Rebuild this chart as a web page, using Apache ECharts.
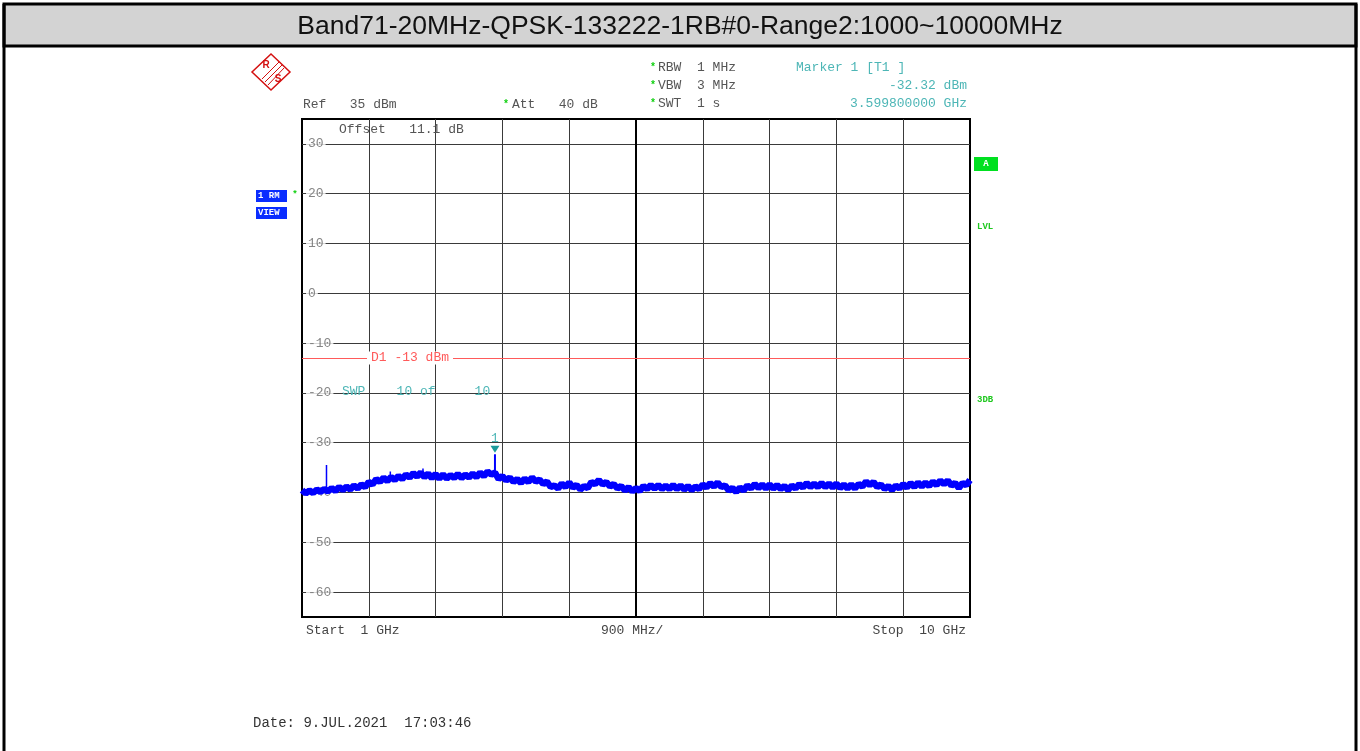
<!DOCTYPE html>
<html><head><meta charset="utf-8">
<script src="https://cdn.jsdelivr.net/npm/echarts@6/dist/echarts.min.js"></script>
<style>html,body{margin:0;padding:0;background:#fff}#c{width:1360px;height:751px}</style>
</head><body><div id="c"></div>
<script>
const chartTitle = 'Band71-20MHz-QPSK-133222-1RB#0-Range2:1000~10000MHz';
const startGHz = 1, stopGHz = 10, stepGHz = 0.05;
const refLevel = 35, bottomLevel = -65;
const yTicks = [30, 20, 10, 0, -10, -20, -30, -40, -50, -60];
const xDivs = [1.9, 2.8, 3.7, 4.6, 5.5, 6.4, 7.3, 8.2, 9.1];
const centerDiv = 5.5;
const traceDbm = [
  -39.5,-40.2,-39.6,-40.1,-39.4,-39.9,-39.3,-39.8,-39.1,-39.7,
  -38.9,-39.5,-38.8,-39.4,-38.6,-39.2,-38.4,-38.9,-37.9,-38.4,
  -37.3,-37.9,-37.0,-37.7,-36.9,-37.5,-36.7,-37.3,-36.4,-37.0,
  -36.1,-36.8,-36.0,-36.9,-36.2,-37.1,-36.3,-37.2,-36.4,-37.2,
  -36.5,-37.1,-36.3,-37.1,-36.4,-37.0,-36.2,-36.9,-36.0,-36.7,
  -35.8,-36.4,-36.0,-37.3,-36.7,-37.6,-37.0,-37.9,-37.3,-38.1,
  -37.2,-37.9,-37.0,-37.8,-37.4,-38.3,-37.8,-38.9,-38.6,-39.2,
  -38.2,-38.9,-38.0,-39.0,-38.5,-39.4,-38.7,-39.1,-37.9,-38.3,
  -37.5,-38.4,-37.9,-38.8,-38.3,-39.2,-38.7,-39.6,-38.9,-39.8,
  -39.1,-39.7,-38.7,-39.3,-38.5,-39.2,-38.5,-39.3,-38.6,-39.3,
  -38.5,-39.3,-38.6,-39.4,-38.7,-39.5,-38.8,-39.3,-38.4,-39.0,
  -38.1,-38.8,-38.0,-38.9,-38.6,-39.6,-39.1,-39.9,-39.0,-39.6,
  -38.6,-39.2,-38.3,-39.1,-38.4,-39.2,-38.4,-39.2,-38.5,-39.3,
  -38.7,-39.5,-38.6,-39.2,-38.3,-39.0,-38.1,-38.9,-38.2,-38.9,
  -38.1,-38.9,-38.2,-39.0,-38.2,-39.1,-38.4,-39.2,-38.4,-39.2,
  -38.3,-38.8,-37.8,-38.5,-37.9,-38.9,-38.4,-39.3,-38.7,-39.5,
  -38.6,-39.2,-38.3,-39.0,-38.1,-38.9,-38.0,-38.8,-38.0,-38.7,
  -37.8,-38.5,-37.6,-38.3,-37.6,-38.6,-38.1,-39.1,-38.1,-38.5,
  -37.5
];
const spikeGHz  = [1.33, 2.19, 2.63, 3.5998];
const spikeBase = [-39.6, -37.3, -36.6, -36.2];
const spikeTop  = [-34.5, -35.8, -35.2, -32.32];
const limitDbm = -13;
const markerGHz = 3.5998, markerDbm = -32.32;

const traceData = traceDbm.map((v, i) => [Math.round((startGHz + i * stepGHz) * 1000) / 1000, v]);

const MONO = '"Liberation Mono","DejaVu Sans Mono",monospace';
const GRAY = '#555';
const CYAN = '#4db6b6';
const GREEN = '#10d010';
function txt(x, y, s, color, size, align, weight) {
  return { type: 'text', x: x, y: y, z: 100, silent: true,
    style: { text: s, fill: color || GRAY, font: (weight || 'normal') + ' ' + (size || 13) + 'px ' + MONO,
      align: align || 'left', verticalAlign: 'middle' } };
}

const chart = echarts.init(document.getElementById('c'), null, { renderer: 'canvas' });

const spikeSeries = spikeGHz.map((g, k) => ({
  type: 'line', z: 6, silent: true, symbol: 'none',
  lineStyle: { color: '#0000ff', width: g === markerGHz ? 2 : 1.5 },
  data: [[g, spikeBase[k]], [g, spikeTop[k]]],
  markPoint: g === markerGHz ? {
    silent: true, z: 7,
    symbol: 'triangle', symbolRotate: 180, symbolSize: [9, 7], symbolOffset: [0, -5],
    itemStyle: { color: '#1a9a9a' },
    label: { show: true, formatter: '1', position: 'top', distance: 1, color: CYAN, fontFamily: MONO, fontSize: 13 },
    data: [{ coord: [markerGHz, markerDbm] }]
  } : undefined
}));

const option = {
  animation: false,
  backgroundColor: '#fff',
  grid: { left: 302, top: 119, width: 668, height: 498, show: true, borderColor: '#000', borderWidth: 2, backgroundColor: 'transparent' },
  xAxis: { type: 'value', min: startGHz, max: stopGHz, show: false },
  yAxis: { type: 'value', min: bottomLevel, max: refLevel, show: false },
  series: [
    { type: 'line', z: 1, silent: true, data: [],
      markLine: { z: 1, silent: true, symbol: ['none', 'none'], label: { show: false },
        lineStyle: { color: '#3a3a3a', width: 1, type: 'solid' },
        data: yTicks.map(v => ({ yAxis: v })).concat(
          xDivs.map(v => ({ xAxis: v, lineStyle: v === centerDiv ? { color: '#000', width: 2, type: 'solid' } : { color: '#3a3a3a', width: 1, type: 'solid' } }))) } },
    { type: 'line', z: 2, silent: true, data: [],
      markLine: { z: 2, silent: true, symbol: ['none', 'none'], label: { show: false },
        lineStyle: { color: '#ff5a5a', width: 1, type: 'solid' },
        data: [{ yAxis: limitDbm }] } },
    { type: 'scatter', z: 3, silent: true, symbolSize: 0,
      data: yTicks.map(v => [startGHz, v]),
      label: { show: true, position: 'right', distance: 4, formatter: p => String(p.value[1]),
        color: '#666', fontFamily: MONO, fontSize: 13, backgroundColor: '#fff', padding: [0, 2] } },
    { type: 'line', z: 5, silent: true, symbol: 'none', data: traceData,
      lineStyle: { color: '#0000ff', width: 6.5 } }
  ].concat(spikeSeries),
  graphic: [
    { type: 'rect', z: 50, shape: { x: 4, y: 4, width: 1352, height: 42 }, style: { fill: '#d3d3d3', stroke: '#000', lineWidth: 3 } },
    { type: 'line', z: 50, shape: { x1: 4, y1: 4, x2: 4, y2: 751 }, style: { stroke: '#000', lineWidth: 3 } },
    { type: 'line', z: 50, shape: { x1: 1356, y1: 4, x2: 1356, y2: 751 }, style: { stroke: '#000', lineWidth: 3 } },
    { type: 'text', z: 100, x: 680, y: 27, style: { text: chartTitle, fill: '#111', font: '26.5px "Liberation Sans",Arial,sans-serif', align: 'center', verticalAlign: 'middle' } },
    // R&S logo
    { type: 'polygon', z: 60, shape: { points: [[271, 54], [290, 72], [271, 90], [252, 72]] }, style: { fill: 'none', stroke: '#d41010', lineWidth: 1.5 } },
    { type: 'line', z: 60, shape: { x1: 262, y1: 79, x2: 279, y2: 62 }, style: { stroke: '#d41010', lineWidth: 1 } },
    { type: 'line', z: 60, shape: { x1: 265, y1: 82, x2: 282, y2: 65 }, style: { stroke: '#d41010', lineWidth: 1 } },
    { type: 'line', z: 60, shape: { x1: 268, y1: 85, x2: 284, y2: 68 }, style: { stroke: '#d41010', lineWidth: 1 } },
    { type: 'text', z: 60, x: 266, y: 65, style: { text: 'R', fill: '#d41010', font: 'bold 10px "Liberation Sans",sans-serif', align: 'center', verticalAlign: 'middle' } },
    { type: 'text', z: 60, x: 278, y: 79, style: { text: 'S', fill: '#d41010', font: 'bold 10px "Liberation Sans",sans-serif', align: 'center', verticalAlign: 'middle' } },
    // header
    txt(303, 105, 'Ref   35 dBm'),
    txt(503, 104, '*', GREEN, 10, 'left', 'bold'),
    txt(512, 105, 'Att   40 dB'),
    txt(650, 67, '*', GREEN, 10, 'left', 'bold'),
    txt(658, 68, 'RBW  1 MHz'),
    txt(650, 85, '*', GREEN, 10, 'left', 'bold'),
    txt(658, 86, 'VBW  3 MHz'),
    txt(650, 103, '*', GREEN, 10, 'left', 'bold'),
    txt(658, 104, 'SWT  1 s'),
    txt(796, 68, 'Marker 1 [T1 ]', CYAN),
    txt(967, 86, '-32.32 dBm', CYAN, 13, 'right'),
    txt(967, 104, '3.599800000 GHz', CYAN, 13, 'right'),
    txt(339, 130, 'Offset   11.1 dB'),
    // left boxes
    { type: 'rect', z: 60, shape: { x: 256, y: 190, width: 31, height: 12 }, style: { fill: '#0a2dff' } },
    { type: 'rect', z: 60, shape: { x: 256, y: 207, width: 31, height: 12 }, style: { fill: '#0a2dff' } },
    txt(258, 196, '1 RM', '#fff', 9, 'left', 'bold'),
    txt(258, 213, 'VIEW', '#fff', 9, 'left', 'bold'),
    txt(295, 195, '*', GREEN, 9, 'center', 'bold'),
    // right indicators
    { type: 'rect', z: 60, shape: { x: 974, y: 157, width: 24, height: 14 }, style: { fill: '#00e020' } },
    txt(986, 164, 'A', '#fff', 9, 'center', 'bold'),
    txt(977, 227, 'LVL', '#20c820', 9, 'left', 'bold'),
    txt(977, 400, '3DB', '#20c820', 9, 'left', 'bold'),
    // in-plot annotations
    { type: 'text', z: 100, x: 367, y: 358, style: { text: 'D1 -13 dBm', fill: '#ff5a5a', font: '13px ' + MONO, align: 'left', verticalAlign: 'middle', backgroundColor: '#fff', padding: [0, 4] } },
    txt(342, 392, 'SWP    10 of     10', CYAN),
    // footer
    txt(306, 631, 'Start  1 GHz', '#444'),
    txt(601, 631, '900 MHz/', '#444'),
    txt(966, 631, 'Stop  10 GHz', '#444', 13, 'right'),
    txt(253, 723, 'Date: 9.JUL.2021  17:03:46', '#333', 14)
  ]
};
chart.setOption(option);
</script></body></html>
